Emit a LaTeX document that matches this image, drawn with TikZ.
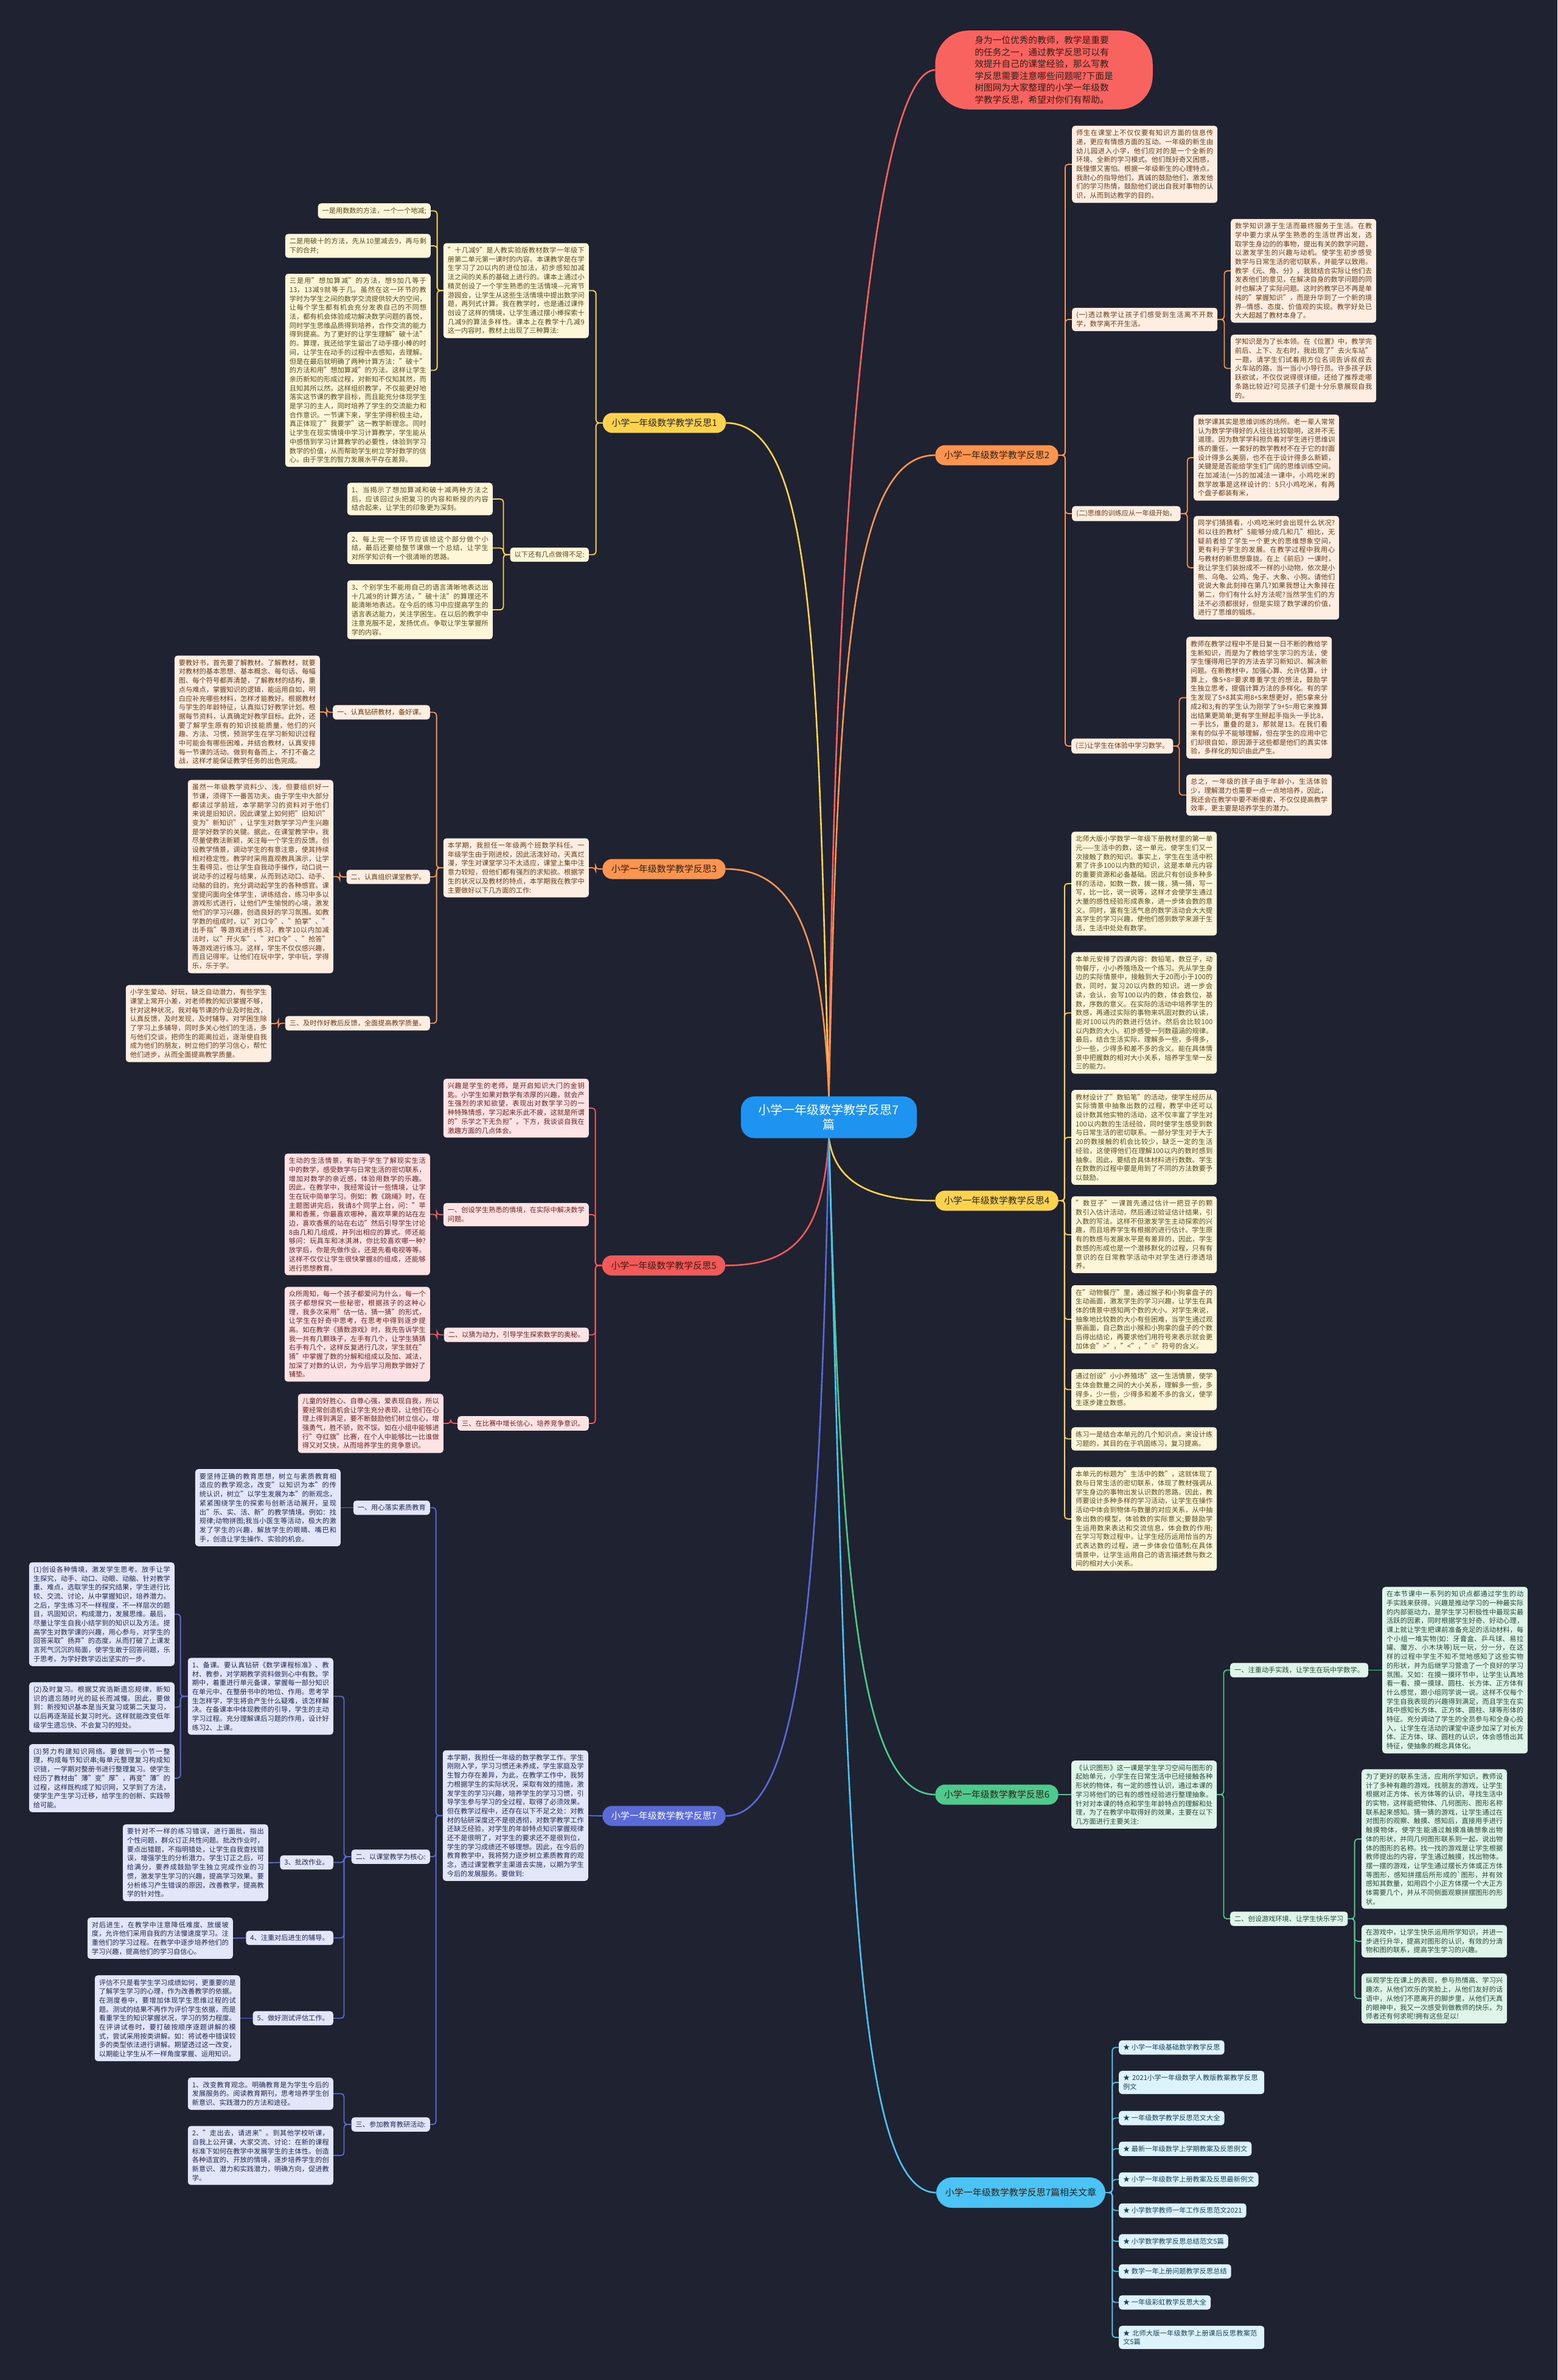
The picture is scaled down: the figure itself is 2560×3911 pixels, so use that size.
\documentclass[tikz,border=0pt]{standalone}
\usepackage{fontspec}
\setmainfont{Noto Sans CJK SC}
\XeTeXlinebreaklocale "zh"
\XeTeXlinebreakskip = 0pt plus 1pt

\definecolor{bgcol}{HTML}{1F2230}
\definecolor{colRoot}{HTML}{1E94F0}
\definecolor{colIntro}{HTML}{F8625F}
\definecolor{colY}{HTML}{FDD34E}
\definecolor{colO}{HTML}{FA9550}
\definecolor{colR}{HTML}{F25A5A}
\definecolor{colG}{HTML}{4ECB8C}
\definecolor{colI}{HTML}{5A6BD8}
\definecolor{colS}{HTML}{4CC3F5}
\definecolor{fY}{HTML}{FEF6D9}
\definecolor{fO}{HTML}{FEEEE2}
\definecolor{fR}{HTML}{FDE3E3}
\definecolor{fG}{HTML}{DFF5EA}
\definecolor{fI}{HTML}{E2E6F8}
\definecolor{fS}{HTML}{DDF3FC}
\definecolor{kY}{HTML}{5B4A1B}
\definecolor{kO}{HTML}{6A3B16}
\definecolor{kR}{HTML}{6E2222}
\definecolor{kG}{HTML}{244A3A}
\definecolor{kI}{HTML}{1F2A55}
\definecolor{kS}{HTML}{17415A}
\definecolor{kTop}{HTML}{2A2218}

\begin{document}
\begin{tikzpicture}[x=1pt, y=-1pt,
  bx/.style={font=\fontsize{11.2}{14.7}\selectfont, inner xsep=7pt, inner ysep=6.5pt, rounded corners=5pt},
  para/.style={bx, text width=225pt, align=justify},
  ybox/.style={fill=fY, text=kY},
  obox/.style={fill=fO, text=kO},
  rbox/.style={fill=fR, text=kR},
  gbox/.style={fill=fG, text=kG},
  ibox/.style={fill=fI, text=kI},
  cbox/.style={fill=fS, text=kS},
  topic/.style={font=\fontsize{15}{18}\selectfont, inner xsep=14.5pt, inner ysep=9.5pt, rounded corners=16pt, text=kTop},
  root/.style={fill=colRoot, text=white, font=\fontsize{20}{24}\selectfont, align=center, inner xsep=29pt, inner ysep=13pt, rounded corners=22pt},
  intro/.style={fill=colIntro, text=kTop, font=\fontsize{14.7}{19.5}\selectfont, align=left, inner xsep=65pt, inner ysep=9pt, rounded corners=55pt},
  trunk/.style={line width=2.6pt},
  con/.style={line width=1.8pt, rounded corners=5pt}
]

\useasboundingbox (0,0) rectangle (2560,3911);
\fill[bgcol] (0,0) rectangle (2560,3911);

% Root and intro
\node[root] (root) at (1362.5,1836) {小学一年级数学教学反思7\\篇};
\node[intro] (intro) at (1716,115) {身为一位优秀的教师，教学是重要\\的任务之一，通过教学反思可以有\\效提升自己的课堂经验，那么写教\\学反思需要注意哪些问题呢?下面是\\树图网为大家整理的小学一年级数\\学教学反思，希望对你们有帮助。};

% Topics
\node[topic, fill=colY] (t1) at (1092,695) {小学一年级数学教学反思1};
\node[topic, fill=colO] (t2) at (1638.5,748) {小学一年级数学教学反思2};
\node[topic, fill=colO] (t3) at (1091.5,1428) {小学一年级数学教学反思3};
\node[topic, fill=colY] (t4) at (1638.5,1973) {小学一年级数学教学反思4};
\node[topic, fill=colR] (t5) at (1091,2079.5) {小学一年级数学教学反思5};
\node[topic, fill=colG] (t6) at (1638.5,2949) {小学一年级数学教学反思6};
\node[topic, fill=colI, text=white] (t7) at (1091.5,2984) {小学一年级数学教学反思7};
\node[topic, fill=colS, inner xsep=15pt, inner ysep=18pt, rounded corners=26pt] (t8) at (1678,3603) {小学一年级数学教学反思7篇相关文章};

\draw[trunk, draw=colIntro] (root.north) .. controls +(10,-1100) and +(-90,0) .. (intro.west);
\draw[trunk, draw=colY] (root.north) .. controls +(-20,-700) and +(150,0) .. (t1.east);
\draw[trunk, draw=colO] (root.north) .. controls +(15,-700) and +(-140,0) .. (t2.west);
\draw[trunk, draw=colO] (root.north) .. controls +(-10,-250) and +(120,0) .. (t3.east);
\draw[trunk, draw=colY] (root.south) .. controls +(10,70) and +(-110,0) .. (t4.west);
\draw[trunk, draw=colR] (root.south) .. controls +(-10,150) and +(120,0) .. (t5.east);
\draw[trunk, draw=colG] (root.south) .. controls +(20,700) and +(-130,0) .. (t6.west);
\draw[trunk, draw=colI] (root.south) .. controls +(-15,700) and +(130,0) .. (t7.east);
\draw[trunk, draw=colS] (root.south) .. controls +(30,1100) and +(-140,0) .. (t8.west);

% Reflection 1
\node[para, ybox, anchor=east] (k0) at (968,477.5) {"十几减9"是人教实验版教材数学一年级下册第二单元第一课时的内容。本课教学是在学生学习了20以内的进位加法，初步感知加减法之间的关系的基础上进行的。课本上通过小精灵创设了一个学生熟悉的生活情境—元宵节游园会，让学生从这些生活情境中提出数学问题，再列式计算。我在教学时，也是通过课件创设了这样的情境，让学生通过摆小棒探索十几减9的算法多样性。课本上在教学十几减9这一内容时，教材上出现了三种算法:};
\node[bx, ybox, anchor=east] (k0a) at (708,346.5) {一是用数数的方法，一个一个地减;};
\node[para, ybox, anchor=east] (k0b) at (708,404) {二是用破十的方法，先从10里减去9，再与剩下的合并;};
\node[para, ybox, anchor=east] (k0c) at (708,608.5) {三是用"想加算减"的方法，想9加几等于13，13减9就等于几。虽然在这一环节的教学时为学生之间的数学交流提供较大的空间，让每个学生都有机会充分发表自己的不同想法，都有机会体验成功解决数学问题的喜悦，同时学生思维品质得到培养，合作交流的能力得到提高。为了更好的让学生理解"破十法"的。算理，我还给学生留出了动手摆小棒的时间，让学生在动手的过程中去感知，去理解。但是在最后就明确了两种计算方法："破十"的方法和用"想加算减"的方法。这样让学生亲历新知的形成过程，对新知不仅知其然，而且知其所以然。这样组织教学，不仅能更好地落实这节课的教学目标，而且能充分体现学生是学习的主人，同时培养了学生的交流能力和合作意识。一节课下来，学生学得积极主动，真正体现了"我要学"这一教学新理念。同时让学生在现实情境中学习计算教学，学生能从中感悟到学习计算教学的必要性，体验到学习数学的价值，从而帮助学生树立学好数学的信心。由于学生的智力发展水平存在差异。};
\node[bx, ybox, anchor=east] (k1) at (968,911.5) {以下还有几点做得不足:};
\node[para, ybox, anchor=east] (k1a) at (810,820) {1、当揭示了想加算减和破十减两种方法之后，应该回过头把复习的内容和新授的内容结合起来，让学生的印象更为深刻。};
\node[para, ybox, anchor=east] (k1b) at (810,900.5) {2、每上完一个环节应该给这个部分做个小结，最后还要给整节课做一个总结，让学生对所学知识有一个很清晰的思路。};
\node[para, ybox, anchor=east] (k1c) at (810,1002) {3、个别学生不能用自己的语言清晰地表达出十几减9的计算方法，"破十法"的算理还不能清晰地表达。在今后的练习中应提高学生的语言表达能力，关注学困生。在以后的教学中注意克服不足，发扬优点。争取让学生掌握所学的内容。};

\draw[con, draw=colY] (t1.west) -- ++(-11,0) |- (k0.east);
\draw[con, draw=colY] (t1.west) -- ++(-11,0) |- (k1.east);
\draw[con, draw=colY] (k0.west) -- ++(-10,0) |- (k0a.east);
\draw[con, draw=colY] (k0.west) -- ++(-10,0) |- (k0b.east);
\draw[con, draw=colY] (k0.west) -- ++(-10,0) |- (k0c.east);
\draw[con, draw=colY] (k1.west) -- ++(-11,0) |- (k1a.east);
\draw[con, draw=colY] (k1.west) -- ++(-11,0) |- (k1b.east);
\draw[con, draw=colY] (k1.west) -- ++(-11,0) |- (k1c.east);

% Reflection 2
\node[para, obox, anchor=west] (a1) at (1762,270) {师生在课堂上不仅仅要有知识方面的信息传递，更应有情感方面的互动。一年级的新生由幼儿园进入小学，他们应对的是一个全新的环境、全新的学习模式。他们既好奇又困惑，既憧憬又害怕。根据一年级新生的心理特点，我耐心的指导他们，真诚的鼓励他们，激发他们的学习热情，鼓励他们说出自我对事物的认识，从而到达教学的目的。};
\node[para, obox, anchor=west] (b1) at (1762,525) {(一)透过教学让孩子们感受到生活离不开数学，数学离不开生活。};
\node[para, obox, anchor=west] (b1a) at (2023,445) {数学知识源于生活而最终服务于生活。在教学中要力求从学生熟悉的生活世界出发，选取学生身边的的事物，提出有关的数学问题，以激发学生的兴趣与动机。使学生初步感受数学与日常生活的密切联系，并能学以致用。教学《元、角、分》，我就结合实际让他们去发表他们的意见，在解决自身的数学问题的同时也解决了实际问题。这时的教学已不再是单纯的"掌握知识"，而是升华到了一个新的境界-{}-情感、态度、价值观的实现。教学好处已大大超越了教材本身了。};
\node[para, obox, anchor=west] (b1b) at (2023,605.5) {学知识是为了长本领。在《位置》中，教学完前后、上下、左右时，我出现了"去火车站"一题，请学生们试着用方位名词告诉叔叔去火车站的路，当一当小小导行员。许多孩子跃跃欲试，不仅仅说得很详细，还给了推荐走哪条路比较近?可见孩子们是十分乐意展现自我的。};
\node[bx, obox, anchor=west] (c1) at (1762,844) {(二)思维的训练应从一年级开始。};
\node[para, obox, anchor=west] (c1a) at (1962,752) {数学课其实是思维训练的场所。老一辈人常常认为数学学得好的人往往比较聪明，这并不无道理。因为数学学科担负着对学生进行思维训练的重任，一套好的数学教材不在于它的封面设计得多么美丽，也不在于设计得多么新颖，关键是是否能给学生们广阔的思维训练空间。在加减法(一)5的加减法一课中，小鸡吃米的数学故事是这样设计的：5只小鸡吃米，有两个盘子都装有米，};
\node[para, obox, anchor=west] (c1b) at (1962,933) {同学们猜猜看，小鸡吃米时会出现什么状况?和以往的教材"5能够分成几和几"相比，无疑前者给了学生一个更大的思维想象空间，更有利于学生的发展。在教学过程中我用心与教材的新思想靠拢。在上《前后》一课时，我让学生们装扮成不一样的小动物，依次是小熊、乌龟、公鸡、兔子、大象、小狗。请他们说说大象此刻排在第几?如果我想让大象排在第二，你们有什么好方法呢?当然学生们的方法不必须都很好，但是实现了数学课的价值，进行了思维的锻炼。};
\node[bx, obox, anchor=west] (d1) at (1761,1226) {(三)让学生在体验中学习数学。};
\node[para, obox, anchor=west] (d1a) at (1950,1146.5) {教师在教学过程中不是日复一日不断的教给学生新知识，而是为了教给学生学习的方法，使学生懂得用已学的方法去学习新知识、解决新问题。在新教材中，加强心算、允许估算，计算上，像5+8=要求尊重学生的想法，鼓励学生独立思考，提倡计算方法的多样化。有的学生发现了5+8其实用8+5来想更好，把5拿来分成2和3;有的学生认为刚学了9+5=用它来推算出结果更简单;更有学生掰起手指头一手比8，一手比5，重叠的是3，那就是13。在我们看来有的似乎不能够理解，但在学生的应用中它们却很自如，原因源于这些都是他们的真实体验，多样化的知识由此产生。};
\node[para, obox, anchor=west] (d1b) at (1950,1306.5) {总之，一年级的孩子由于年龄小，生活体验少，理解潜力也需要一点一点地培养，因此，我还会在教学中要不断摸索，不仅仅提高教学效率，更主要是培养学生的潜力。};

\draw[con, draw=colO] (t2.east) -- ++(11,0) |- (a1.west);
\draw[con, draw=colO] (t2.east) -- ++(11,0) |- (b1.west);
\draw[con, draw=colO] (t2.east) -- ++(11,0) |- (c1.west);
\draw[con, draw=colO] (t2.east) -- ++(11,0) |- (d1.west);
\draw[con, draw=colO] (b1.east) -- ++(11,0) |- (b1a.west);
\draw[con, draw=colO] (b1.east) -- ++(11,0) |- (b1b.west);
\draw[con, draw=colO] (c1.east) -- ++(11,0) |- (c1a.west);
\draw[con, draw=colO] (c1.east) -- ++(11,0) |- (c1b.west);
\draw[con, draw=colO] (d1.east) -- ++(10,0) |- (d1a.west);
\draw[con, draw=colO] (d1.east) -- ++(10,0) |- (d1b.west);

% Reflection 3
\node[para, obox, anchor=east] (l0) at (968,1426) {本学期，我担任一年级两个班数学科任。一年级学生由于刚进校，因此活泼好动，天真烂漫，学生对课堂学习不太适应，课堂上集中注意力较短，但他们都有强烈的求知欲。根据学生的状况以及教材的特点，本学期我在教学中主要做好以下几方面的工作:};
\node[bx, obox, anchor=east] (l1) at (707,1170.5) {一、认真钻研教材，备好课。};
\node[para, obox, anchor=east] (l1a) at (526,1170) {要教好书，首先要了解教材。了解教材，就要对教材的基本思想、基本概念、每句话、每幅图、每个符号都弄清楚，了解教材的结构，重点与难点，掌握知识的逻辑，能运用自如，明白应补充哪些材料，怎样才能教好。根据教材与学生的年龄特征，认真拟订好教学计划。根据每节资料，认真确定好教学目标。此外，还要了解学生原有的知识技能质量，他们的兴趣、方法、习惯，预测学生在学习新知识过程中可能会有哪些困难，并结合教材，认真安排每一节课的活动。做到有备而上，不打不备之战，这样才能保证教学任务的出色完成。};
\node[bx, obox, anchor=east] (l2) at (707,1441) {二、认真组织课堂教学。};
\node[para, obox, anchor=east] (l2a) at (548,1440.5) {虽然一年级教学资料少、浅，但要组织好一节课，须得下一番苦功夫。由于学生中大部分都读过学前班，本学期学习的资料对于他们来说是旧知识，因此课堂上如何把"旧知识"变为"新知识"，让学生对数学学习产生兴趣是学好数学的关键。据此，在课堂教学中，我尽量使教法新颖，关注每一个学生的反馈。创设教学情景，调动学生的有意注意，使其持续相对稳定性。教学时采用直观教具演示，让学生看得见，也让学生自我动手操作，动口说一说动手的过程与结果，从而到达动口、动手、动脑的目的，充分调动起学生的各种感官。课堂提问面向全体学生，讲练结合，练习中多以游戏形式进行，让他们产生愉悦的心境，激发他们的学习兴趣，创造良好的学习氛围。如教学数的组成时，以"对口令"、"拍掌"、"出手指"等游戏进行练习，教学10以内加减法时，以"开火车"、"对口令"、"抢答"等游戏进行练习。这样，学生不仅仅感兴趣，而且记得牢。让他们在玩中学，学中玩，学得乐，乐于学。};
\node[bx, obox, anchor=east] (l3) at (707,1681.5) {三、及时作好教后反馈，全面提高教学质量。};
\node[para, obox, anchor=east] (l3a) at (446,1682) {小学生爱动、好玩，缺乏自动潜力，有些学生课堂上常开小差，对老师教的知识掌握不够，针对这种状况，我对每节课的作业及时批改，认真反馈，及时发现，及时辅导。对学困生除了学习上多辅导，同时多关心他们的生活，多与他们交谈，把师生的距离拉近，逐渐使自我成为他们的朋友，树立他们的学习信心，帮忙他们进步，从而全面提高教学质量。};

\draw[con, draw=colO] (t3.west) -- ++(-11,0) |- (l0.east);
\draw[con, draw=colO] (l0.west) -- ++(-11,0) |- (l1.east);
\draw[con, draw=colO] (l0.west) -- ++(-11,0) |- (l2.east);
\draw[con, draw=colO] (l0.west) -- ++(-11,0) |- (l3.east);
\draw[con, draw=colO] (l1.west) -- ++(-10,0) |- (l1a.east);
\draw[con, draw=colO] (l2.west) -- ++(-11,0) |- (l2a.east);
\draw[con, draw=colO] (l3.west) -- ++(-11,0) |- (l3a.east);

% Reflection 4
\node[para, ybox, anchor=west] (e1) at (1761,1452) {北师大版小学数学一年级下册教材里的第一单元——生活中的数，这一单元，使学生们又一次接触了数的知识。事实上，学生在生活中积累了许多100以内数的知识，这是本单元内容的重要资源和必备基础。因此只有创设多种多样的活动，如数一数，拨一拨，猜一猜，写一写，比一比，说一说等，这样才会使学生通过大量的感性经验形成表象，进一步体会数的意义。同时，富有生活气息的数学活动会大大提高学生的学习兴趣，使他们感到数学来源于生活，生活中处处有数学。};
\node[para, ybox, anchor=west] (e2) at (1761,1664.5) {本单元安排了四课内容：数铅笔，数豆子，动物餐厅，小小养殖场及一个练习。先从学生身边的实际情景中，接触到大于20而小于100的数，同时，复习20以内数的知识。进一步会读，会认，会写100以内的数，体会数位，基数，序数的意义。在实际的活动中培养学生的数感，再通过实际的事物来巩固对数的认读，能对100以内的数进行估计。然后会比较100以内数的大小。初步感受一列数蕴涵的规律。最后，结合生活实际，理解多一些，多得多，少一些，少得多和差不多的含义。能在具体情景中把握数的相对大小关系，培养学生举一反三的能力。};
\node[para, ybox, anchor=west] (e3) at (1761,1869) {教材设计了"数铅笔"的活动，使学生经历从实际情景中抽象出数的过程，教学中还可以设计数其他实物的活动，这不仅丰富了学生对100以内数的生活经验，同时使学生感受到数与日常生活的密切联系。一部分学生对于大于20的数接触的机会比较少，缺乏一定的生活经验，这使得他们在理解100以内的数时感到抽象。因此，要结合具体材料进行数数。学生在数数的过程中要是用到了不同的方法数要予以鼓励。};
\node[para, ybox, anchor=west] (e4) at (1761,2029) {"数豆子"一课首先通过估计一把豆子的颗数引入估计活动，然后通过验证估计结果，引入数的写法。这样不但激发学生主动探索的兴趣，而且培养学生有根据的进行估计。学生原有的数感与发展水平是有差异的，因此，学生数感的形成也是一个潜移默化的过程，只有有意识的在日常教学活动中对学生进行渗透培养。};
\node[para, ybox, anchor=west] (e5) at (1761,2168) {在"动物餐厅"里，通过猴子和小狗拿盘子的生动画面，激发学生的学习兴趣，让学生在具体的情景中感知两个数的大小。对学生来说，抽象地比较数的大小有些困难，当学生通过观察画面，自己数出小猴和小狗拿的盘子的个数后得出结论，再要求他们用符号来表示就会更加体会">"，"<"，"="符号的含义。};
\node[para, ybox, anchor=west] (e6) at (1761,2283.5) {通过创设"小小养殖场"这一生活情景，使学生体会数量之间的大小关系，理解多一些，多得多，少一些，少得多和差不多的含义，使学生逐步建立数感。};
\node[para, ybox, anchor=west] (e7) at (1761,2364.5) {练习一是结合本单元的几个知识点，来设计练习题的，其目的在于巩固练习，复习提高。};
\node[para, ybox, anchor=west] (e8) at (1761,2496) {本单元的标题为"生活中的数"，这就体现了数与日常生活的密切联系，体现了教材强调从学生身边的事物出发认识数的思路。因此，教师要设计多种多样的学习活动，让学生在操作活动中体会到物体与数量的对应关系，从中抽象出数的模型，体验数的实际意义;要鼓励学生运用数来表达和交流信息，体会数的作用;在学习写数过程中，让学生经历运用恰当的方式表达数的过程，进一步体会位值制;在具体情景中，让学生运用自己的语言描述数与数之间的相对大小关系。};

\draw[con, draw=colY] (t4.east) -- ++(10,0) |- (e1.west);
\draw[con, draw=colY] (t4.east) -- ++(10,0) |- (e2.west);
\draw[con, draw=colY] (t4.east) -- ++(10,0) |- (e3.west);
\draw[con, draw=colY] (t4.east) -- ++(10,0) |- (e4.west);
\draw[con, draw=colY] (t4.east) -- ++(10,0) |- (e5.west);
\draw[con, draw=colY] (t4.east) -- ++(10,0) |- (e6.west);
\draw[con, draw=colY] (t4.east) -- ++(10,0) |- (e7.west);
\draw[con, draw=colY] (t4.east) -- ++(10,0) |- (e8.west);

% Reflection 5
\node[para, rbox, anchor=east] (m0) at (968,1821) {兴趣是学生的老师，是开启知识大门的金钥匙。小学生如果对数学有浓厚的兴趣，就会产生强烈的求知欲望，表现出对数学学习的一种特殊情感，学习起来乐此不疲，这就是所谓的"乐学之下无负担"。下方，我谈谈自我在激趣方面的几点体会。};
\node[para, rbox, anchor=east] (m1) at (968,1996) {一、创设学生熟悉的情境，在实际中解决数学问题。};
\node[para, rbox, anchor=east] (m1a) at (707,1995.5) {生动的生活情景，有助于学生了解现实生活中的数学，感受数学与日常生活的密切联系，增加对数学的亲近感，体验用数学的乐趣。因此，在教学中，我经常设计一些情境，让学生在玩中简单学习。例如：教《跳绳》时，在主题图讲完后，我请8个同学上台，问："苹果和香蕉，你最喜欢哪种，喜欢苹果的站在左边，喜欢香蕉的站在右边"然后引导学生讨论8由几和几组成，并列出相应的算式。师还能够问：玩具车和冰淇淋，你比较喜欢哪一种?放学后，你是先做作业，还是先看电视等等。这样不仅仅让学生很快掌握8的组成，还能够进行思想教育。};
\node[bx, rbox, anchor=east] (m2) at (968,2193.5) {二、以猜为动力，引导学生探索数学的奥秘。};
\node[para, rbox, anchor=east] (m2a) at (707,2192.5) {众所周知，每一个孩子都爱问为什么，每一个孩子都想探究一些秘密，根据孩子的这种心理，我多次采用"估一估，猜一猜"的形式，让学生在好奇中思考，在思考中得到逐步提高。如在教学《猜数游戏》时，我先告诉学生我一共有几颗珠子，左手有几个，让学生猜猜右手有几个，这样反复进行几次，学生就在"猜"中掌握了数的分解和组成以及加、减法，加深了对数的认识，为今后学习用数学做好了铺垫。};
\node[bx, rbox, anchor=east] (m3) at (968,2339) {三、在比赛中增长信心，培养竞争意识。};
\node[para, rbox, anchor=east] (m3a) at (729,2339) {儿童的好胜心、自尊心强，爱表现自我，所以要经常创造机会让学生充分表现，让他们在心理上得到满足，要不断鼓励他们树立信心，增强勇气，胜不骄，败不馁。如在小组中能够进行"夺红旗"比赛，在个人中能够比一比谁做得又对又快，从而培养学生的竞争意识。};

\draw[con, draw=colR] (t5.west) -- ++(-11,0) |- (m0.east);
\draw[con, draw=colR] (t5.west) -- ++(-11,0) |- (m1.east);
\draw[con, draw=colR] (t5.west) -- ++(-11,0) |- (m2.east);
\draw[con, draw=colR] (t5.west) -- ++(-11,0) |- (m3.east);
\draw[con, draw=colR] (m1.west) -- ++(-11,0) |- (m1a.east);
\draw[con, draw=colR] (m2.west) -- ++(-11,0) |- (m2a.east);
\draw[con, draw=colR] (m3.west) -- ++(-11,0) |- (m3a.east);

% Reflection 6
\node[para, gbox, anchor=west] (g0) at (1761,2949) {《认识图形》这一课是学生学习空间与图形的起始单元，小学生在日常生活中已经接触各种形状的物体，有一定的感性认识，通过本课的学习将他们的已有的感性经验进行整理抽象。针对对本课的特点和学生年龄特点的理解和处理，为了在教学中取得好的效果，主要在以下几方面进行主要关注:};
\node[bx, gbox, anchor=west] (g1) at (2022,2744.5) {一、注重动手实践，让学生在玩中学数学。};
\node[para, gbox, anchor=west] (g1a) at (2272,2744.5) {在本节课中一系列的知识点都通过学生的动手实践来获得。兴趣是推动学习的一种最实际的内部驱动力，是学生学习积极性中最现实最活跃的因素，同时根据学生好奇、好动心理，课上就让学生把课前准备充足的活动材料，每个小组一堆实物(如：牙膏盒、乒乓球、易拉罐、魔方、小木块等)玩一玩，分一分，在这样的过程中学生不知不觉地感知了这些实物的形状，并为后继学习营造了一个良好的学习氛围。又如：在摸一摸环节中，让学生认真地看一看、摸一摸球、圆柱、长方体、正方体有什么感觉，跟小组同学说一说。这样不仅每个学生自我表现的兴趣得到满足，而且学生在实践中感知长方体、正方体、圆柱、球等形体的特征。充分调动了学生的全员参与和全身心投入，让学生在活动的课堂中逐步加深了对长方体、正方体、球、圆柱的认识，体会感悟出其特征，使抽象的概念具体化。};
\node[bx, gbox, anchor=west] (g2) at (2022,3153) {二、创设游戏环境、让学生快乐学习};
\node[para, gbox, anchor=west] (g2a) at (2238,3022) {为了更好的联系生活，应用所学知识，教师设计了多种有趣的游戏。找朋友的游戏，让学生根据对正方体、长方体等的认识，寻找生活中的实物，这样能把物体、几何图形、图形名称联系起来感知。猜一猜的游戏，让学生通过在对图形的观察、触摸、感知后，直接用手进行触摸物体，使学生能通过触摸准确想象出物体的形状，并同几何图形联系到一起，说出物体的图形的名称。找一找的游戏是让学生根据教师提出的内容，学生通过触摸，找出物体。摆一摆的游戏，让学生通过摆长方体或正方体等图形，感知拼摆后所形成的\textasciigrave{}图形，并有效感知其数量，如用四个小正方体摆一个大正方体需要几个，并从不同侧面观察拼摆图形的形状。};
\node[para, gbox, anchor=west] (g2b) at (2238,3190) {在游戏中，让学生快乐运用所学知识，并进一步进行升华，提高对图形的认识，有效的分清物和图的联系，提高学生学习的兴趣。};
\node[para, gbox, anchor=west] (g2c) at (2238,3284) {纵观学生在课上的表现，参与热情高、学习兴趣浓，从他们欢乐的笑脸上，从他们友好的话语中，从他们不愿离开的脚步里，从他们天真的眼神中，我又一次感受到做教师的快乐，为师者还有何求呢!拥有这些足以!};

\draw[con, draw=colG] (t6.east) -- (g0.west);
\draw[con, draw=colG] (g0.east) -- ++(11,0) |- (g1.west);
\draw[con, draw=colG] (g0.east) -- ++(11,0) |- (g2.west);
\draw[con, draw=colG] (g1.east) -- (g1a.west);
\draw[con, draw=colG] (g2.east) -- ++(11,0) |- (g2a.west);
\draw[con, draw=colG] (g2.east) -- ++(11,0) |- (g2b.west);
\draw[con, draw=colG] (g2.east) -- ++(11,0) |- (g2c.west);

% Reflection 7
\node[para, ibox, anchor=east] (n0) at (967,2983.5) {本学期，我担任一年级的数学教学工作。学生刚刚入学，学习习惯还未养成，学生家庭及学生智力存在差异，为此，在教学工作中，我努力根据学生的实际状况，采取有效的措施，激发学生的学习兴趣，培养学生的学习习惯，引导学生参与学习的全过程，取得了必须效果。但在教学过程中，还存在以下不足之处：对教材的钻研深度还不是很透彻，对数学教学工作还缺乏经验，对学生的年龄特点知识掌握规律还不是很明了，对学生的要求还不是很到位，学生的学习成绩还不够理想。因此，在今后的教育教学中，我将努力逐步树立素质教育的观念，透过课堂教学主渠道去实施，以期为学生今后的发展服务。要做到:};
\node[bx, ibox, anchor=east] (n1) at (707,2477.5) {一、用心落实素质教育};
\node[para, ibox, anchor=east] (n1a) at (560,2477.5) {要坚持正确的教育思想，树立与素质教育相适应的教学观念，改变"以知识为本"的传统认识，树立"以学生发展为本"的新观念，紧紧围绕学生的探索与创新活动展开，呈现出"乐、实、活、新"的教学情境。例如：找规律;动物拼图;我当小医生等活动，极大的激发了学生的兴趣，解放学生的眼睛、嘴巴和手，创造让学生操作、实验的机会。};
\node[bx, ibox, anchor=east] (n3) at (707,3051) {二、以课堂教学为核心:};
\node[para, ibox, anchor=east] (n2) at (548,2787.5) {1、备课。要认真钻研《数学课程标准》、教材、教参，对学期教学资料做到心中有数。学期中，着重进行单元备课，掌握每一部分知识在单元中、在整册书中的地位、作用。思考学生怎样学，学生将会产生什么疑难，该怎样解决。在备课本中体现教师的引导，学生的主动学习过程。充分理解课后习题的作用，设计好练习2、上课。};
\node[para, ibox, anchor=east] (n2a) at (287,2652.5) {(1)创设各种情境，激发学生思考。放手让学生探究，动手、动口、动眼、动脑、针对教学重、难点，选取学生的探究结果，学生进行比较、交流、讨论，从中掌握知识，培养潜力。之后，学生练习不一样程度，不一样层次的题目，巩固知识，构成潜力，发展思维。最后，尽量让学生自我小结学到的知识以及方法。提高学生对数学课的兴趣，用心参与，对学生的回答采取"扬弃"的态度，从而打破了上课发言死气沉沉的局面，使学生敢于回答问题，乐于思考。为学好数学迈出坚实的一步。};
\node[para, ibox, anchor=east] (n2b) at (287,2805.5) {(2)及时复习。根据艾宾浩斯遗忘规律，新知识的遗忘随时光的延长而减慢。因此，要做到：新授知识基本是当天复习或第二天复习，以后再逐渐延长复习时光。这样就能改变低年级学生遗忘快、不会复习的短处。};
\node[para, ibox, anchor=east] (n2c) at (287,2922) {(3)努力构建知识网络。要做到一小节一整理，构成每节知识串;每单元整理复习构成知识链，一学期对整册书进行整理复习。使学生经历了教材由"薄"变"厚"，再变"薄"的过程，这样既构成了知识网，又学到了方法，使学生产生学习迁移，给学生的创新、实践带给可能。};
\node[bx, ibox, anchor=east] (n3b) at (548,3060.5) {3、批改作业。};
\node[para, ibox, anchor=east] (n3ba) at (441,3061) {要针对不一样的练习错误，进行面批，指出个性问题，群众订正共性问题。批改作业时，要点出错题，不指明错处，让学生自我查找错误，增强学生的分析潜力。学生订正之后，可给满分，要养成鼓励学生独立完成作业的习惯，激发学生学习的兴趣，提高学习效果。要分析练习产生错误的原因，改善教学，提高教学的针对性。};
\node[bx, ibox, anchor=east] (n3c) at (548,3184.5) {4、注重对后进生的辅导。};
\node[para, ibox, anchor=east] (n3ca) at (383,3185) {对后进生，在教学中注意降低难度、放缓坡度，允许他们采用自我的方法慢速度学习。注重他们的学习过程。在教学中逐步培养他们的学习兴趣，提高他们的学习自信心。};
\node[bx, ibox, anchor=east] (n3d) at (548,3316.5) {5、做好测试评估工作。};
\node[para, ibox, anchor=east] (n3da) at (395,3316.5) {评估不只是看学生学习成绩如何，更重要的是了解学生学习的心理，作为改善教学的依据。在测度卷中，要增加体现学生思维过程的试题。测试的结果不再作为评价学生依据，而是看重学生的知识掌握状况，学习的努力程度。在评讲试卷时，要打破按顺序逐题讲解的模式，尝试采用按类讲解。如：将试卷中错误较多的类型依法进行讲解。期望透过这一改变，以期能让学生从不一样角度掌握、运用知识。};
\node[bx, ibox, anchor=east] (n4) at (707,3491) {三、参加教育教研活动:};
\node[para, ibox, anchor=east] (n4a) at (548,3440.5) {1、改变教育观念。明确教育是为学生今后的发展服务的。阅读教育期刊，思考培养学生创新意识、实践潜力的方法和途径。};
\node[para, ibox, anchor=east] (n4b) at (548,3542) {2、"走出去，请进来"。到其他学校听课，自我上公开课，大家交流、讨论：在新的课程标准下如何在教学中发展学生的主体性。创造各种适宜的、开放的情境，逐步培养学生的创新意识、潜力和实践潜力，明确方向，促进教学。};

\draw[con, draw=colI] (t7.west) -- (n0.east);
\draw[con, draw=colI] (n0.west) -- ++(-11,0) |- (n1.east);
\draw[con, draw=colI] (n0.west) -- ++(-11,0) |- (n3.east);
\draw[con, draw=colI] (n0.west) -- ++(-11,0) |- (n4.east);
\draw[con, draw=colI] (n1.west) -- (n1a.east);
\draw[con, draw=colI] (n3.west) -- ++(-12,0) |- (n2.east);
\draw[con, draw=colI] (n3.west) -- ++(-12,0) |- (n3b.east);
\draw[con, draw=colI] (n3.west) -- ++(-12,0) |- (n3c.east);
\draw[con, draw=colI] (n3.west) -- ++(-12,0) |- (n3d.east);
\draw[con, draw=colI] (n2.west) -- ++(-12,0) |- (n2a.east);
\draw[con, draw=colI] (n2.west) -- ++(-12,0) |- (n2b.east);
\draw[con, draw=colI] (n2.west) -- ++(-12,0) |- (n2c.east);
\draw[con, draw=colI] (n3b.west) -- (n3ba.east);
\draw[con, draw=colI] (n3c.west) -- (n3ca.east);
\draw[con, draw=colI] (n3d.west) -- (n3da.east);
\draw[con, draw=colI] (n4.west) -- ++(-12,0) |- (n4a.east);
\draw[con, draw=colI] (n4.west) -- ++(-12,0) |- (n4b.east);

% Related articles
\node[bx, cbox, anchor=west] (h1) at (1839,3364.5) {★ 小学一年级基础数学教学反思};
\node[para, cbox, anchor=west, align=left] (h2) at (1839,3422) {★ 2021小学一年级数学人教版教案教学反思例文};
\node[bx, cbox, anchor=west] (h3) at (1839,3480.5) {★ 一年级数学教学反思范文大全};
\node[bx, cbox, anchor=west] (h4) at (1839,3531) {★ 最新一年级数学上学期教案及反思例文};
\node[bx, cbox, anchor=west] (h5) at (1839,3581.5) {★ 小学一年级数学上册教案及反思最新例文};
\node[bx, cbox, anchor=west] (h6) at (1839,3632.5) {★ 小学数学教师一年工作反思范文2021};
\node[bx, cbox, anchor=west] (h7) at (1839,3683) {★ 小学数学教学反思总结范文5篇};
\node[bx, cbox, anchor=west] (h8) at (1839,3732.5) {★ 数学一年上册问题教学反思总结};
\node[bx, cbox, anchor=west] (h9) at (1839,3783.5) {★ 一年级彩虹教学反思大全};
\node[para, cbox, anchor=west, align=left] (h10) at (1839,3841) {★ 北师大版一年级数学上册课后反思教案范文5篇};

\draw[con, draw=colS] (t8.east) -- ++(11,0) |- (h1.west);
\draw[con, draw=colS] (t8.east) -- ++(11,0) |- (h2.west);
\draw[con, draw=colS] (t8.east) -- ++(11,0) |- (h3.west);
\draw[con, draw=colS] (t8.east) -- ++(11,0) |- (h4.west);
\draw[con, draw=colS] (t8.east) -- ++(11,0) |- (h5.west);
\draw[con, draw=colS] (t8.east) -- ++(11,0) |- (h6.west);
\draw[con, draw=colS] (t8.east) -- ++(11,0) |- (h7.west);
\draw[con, draw=colS] (t8.east) -- ++(11,0) |- (h8.west);
\draw[con, draw=colS] (t8.east) -- ++(11,0) |- (h9.west);
\draw[con, draw=colS] (t8.east) -- ++(11,0) |- (h10.west);

\end{tikzpicture}
\end{document}
